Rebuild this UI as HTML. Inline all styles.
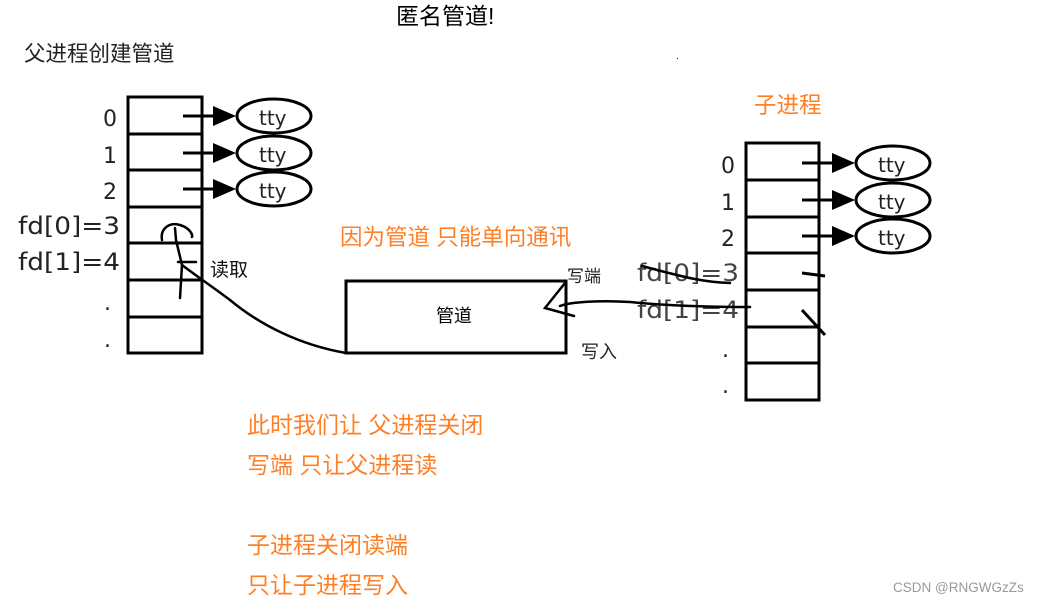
<!DOCTYPE html>
<html><head><meta charset="utf-8"><style>
html,body{margin:0;padding:0;background:#fff;width:1042px;height:602px;overflow:hidden}
svg{display:block}
text{font-family:"Liberation Sans","Noto Sans CJK SC",sans-serif}
.o{fill:#ff7f27;font-size:22.5px}
.d text{fill:#222;font-family:"DejaVu Sans","Noto Sans CJK SC",sans-serif;font-size:22px}
</style></head><body>
<svg width="1042" height="602" viewBox="0 0 1042 602">
<text x="396" y="24" font-size="23" fill="#000">匿名管道!</text>
<text x="24" y="61" font-size="21.5" fill="#222">父进程创建管道</text>
<text x="676" y="59" font-size="10" fill="#000">.</text>
<!-- left table -->
<g stroke="#000" stroke-width="3" fill="none">
<rect x="128" y="97" width="74" height="256"/>
<line x1="128" y1="134" x2="202" y2="134"/><line x1="128" y1="170" x2="202" y2="170"/>
<line x1="128" y1="207" x2="202" y2="207"/><line x1="128" y1="243" x2="202" y2="243"/>
<line x1="128" y1="280" x2="202" y2="280"/><line x1="128" y1="317" x2="202" y2="317"/>
<line x1="183" y1="116" x2="215" y2="116"/><line x1="183" y1="153" x2="215" y2="153"/><line x1="183" y1="189" x2="215" y2="189"/>
<ellipse cx="274" cy="116" rx="37" ry="17"/><ellipse cx="274" cy="153" rx="37" ry="17"/><ellipse cx="274" cy="189" rx="37" ry="17"/>
</g>
<g fill="#000"><path d="M213,106 L236,116 L213,126Z"/><path d="M213,143 L236,153 L213,163Z"/><path d="M213,179 L236,189 L213,199Z"/></g>
<g class="d">
<text x="103" y="126">0</text><text x="103" y="163">1</text><text x="103" y="199">2</text>
<text x="18" y="234" textLength="102" lengthAdjust="spacingAndGlyphs" style="font-size:24px">fd[0]=3</text><text x="18" y="270" textLength="102" lengthAdjust="spacingAndGlyphs" style="font-size:24px">fd[1]=4</text>
<text x="104" y="310">.</text><text x="104" y="347">.</text>
<text x="259" y="125" style="font-size:20px">tty</text><text x="259" y="162" style="font-size:20px">tty</text><text x="259" y="198" style="font-size:20px">tty</text>
</g>
<!-- right table -->
<g stroke="#000" stroke-width="3" fill="none">
<rect x="746" y="143" width="73" height="257"/>
<line x1="746" y1="180" x2="819" y2="180"/><line x1="746" y1="217" x2="819" y2="217"/>
<line x1="746" y1="253" x2="819" y2="253"/><line x1="746" y1="290" x2="819" y2="290"/>
<line x1="746" y1="327" x2="819" y2="327"/><line x1="746" y1="363" x2="819" y2="363"/>
<line x1="802" y1="163" x2="834" y2="163"/><line x1="802" y1="200" x2="834" y2="200"/><line x1="802" y1="236" x2="834" y2="236"/>
<ellipse cx="893" cy="163" rx="37" ry="17"/><ellipse cx="893" cy="200" rx="37" ry="17"/><ellipse cx="893" cy="236" rx="37" ry="17"/>
<line x1="802" y1="273" x2="825" y2="276"/><line x1="802" y1="310" x2="825" y2="335"/>
</g>
<g fill="#000"><path d="M832,153 L855,163 L832,173Z"/><path d="M832,190 L855,200 L832,210Z"/><path d="M832,226 L855,236 L832,246Z"/></g>
<g class="d">
<text x="721" y="173">0</text><text x="721" y="210">1</text><text x="721" y="246">2</text>
<text x="637" y="281" textLength="102" lengthAdjust="spacingAndGlyphs" style="fill:#444;font-size:24px">fd[0]=3</text><text x="637" y="318" textLength="102" lengthAdjust="spacingAndGlyphs" style="fill:#444;font-size:24px">fd[1]=4</text>
<text x="722" y="357">.</text><text x="722" y="393">.</text>
<text x="878" y="172" style="font-size:20px">tty</text><text x="878" y="209" style="font-size:20px">tty</text><text x="878" y="245" style="font-size:20px">tty</text>
</g>
<!-- pipe -->
<rect x="346" y="281" width="220" height="72" stroke="#000" stroke-width="3" fill="none"/>
<text x="436" y="322" font-size="18" fill="#000">管道</text>
<text x="567" y="282" font-size="17" fill="#222">写端</text>
<text x="581" y="358" font-size="18" fill="#222">写入</text>
<text x="210" y="276" font-size="19" fill="#111">读取</text>
<!-- hand lines -->
<g stroke="#000" stroke-width="2.5" fill="none" stroke-linecap="round">
<path d="M346,353 C300,345 260,325 230,300 C210,285 195,275 182,265"/>
<path d="M182,265 L180,298"/><path d="M182,265 L176,240 L175,228"/>
<path d="M162,240 C160,228 170,222 180,225 C190,228 193,235 192,237"/>
<path d="M178,262 L196,262"/>
<path d="M750,307 C700,307 660,305 630,302 C600,300 570,302 560,306"/>
<path d="M565,283 L545,308 L574,316"/>
<path d="M642,266 C680,276 700,282 730,283"/>
</g>
<text x="340" y="245" class="o">因为管道 只能单向通讯</text>
<text x="754" y="113" class="o">子进程</text>
<text x="247" y="433" class="o" style="font-size:23px">此时我们让 父进程关闭</text>
<text x="247" y="473" class="o" style="font-size:23px">写端 只让父进程读</text>
<text x="247" y="553" class="o" style="font-size:23px">子进程关闭读端</text>
<text x="247" y="593" class="o" style="font-size:23px">只让子进程写入</text>
<text x="893" y="592" font-size="13.5" fill="#999">CSDN @RNGWGzZs</text>
</svg>
</body></html>
